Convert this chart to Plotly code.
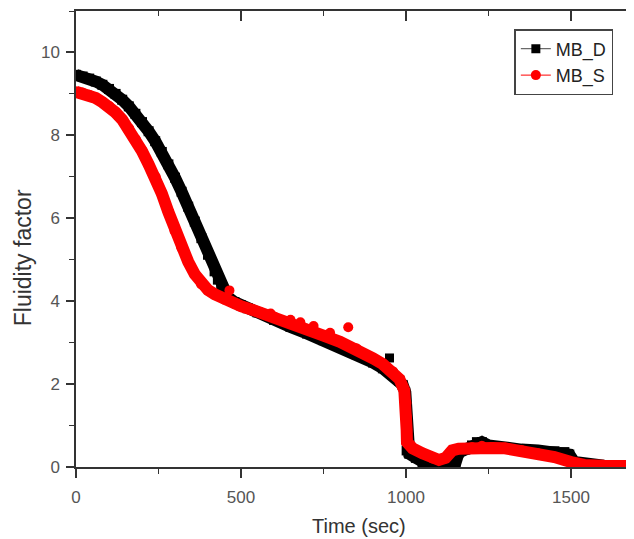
import plotly.graph_objects as go

# ---------------- data ----------------
time_d = [0, 20, 40, 60, 80, 100, 120, 140, 160, 180, 200, 220, 240, 260, 280, 300,
          320, 340, 360, 380, 400, 420, 430, 440, 450, 460, 480, 500, 520, 550, 600,
          650, 700, 750, 800, 850, 900, 930, 960, 980, 990, 998, 1002, 1010, 1030,
          1050, 1070, 1100, 1130, 1150, 1160, 1180, 1200, 1215, 1230, 1250, 1300,
          1350, 1400, 1450, 1480, 1495, 1510, 1550, 1600, 1650, 1690]
fluid_d = [9.46, 9.42, 9.37, 9.30, 9.22, 9.12, 9.00, 8.86, 8.70, 8.52, 8.32, 8.10,
           7.86, 7.60, 7.30, 6.98, 6.64, 6.28, 5.92, 5.52, 5.12, 4.72, 4.52, 4.34,
           4.20, 4.10, 3.98, 3.90, 3.83, 3.73, 3.55, 3.38, 3.22, 3.06, 2.90, 2.72,
           2.52, 2.38, 2.22, 2.08, 1.98, 1.80, 0.40, 0.32, 0.22, 0.10, 0.04, 0.03,
           0.04, 0.10, 0.35, 0.42, 0.52, 0.60, 0.60, 0.52, 0.45, 0.42, 0.40, 0.38,
           0.36, 0.30, 0.12, 0.05, 0.03, 0.02, 0.02]

time_s = [0, 20, 40, 60, 80, 100, 120, 140, 160, 180, 200, 220, 240, 260, 280, 300,
          320, 340, 360, 380, 400, 420, 450, 480, 500, 550, 600, 650, 700, 750, 800,
          850, 900, 930, 960, 980, 995, 1000, 1001, 1002, 1003, 1020, 1050, 1080,
          1100, 1120, 1140, 1160, 1200, 1230, 1260, 1300, 1350, 1400, 1450, 1500,
          1540, 1600, 1650, 1690]
fluid_s = [9.05, 9.02, 8.97, 8.90, 8.80, 8.70, 8.55, 8.38, 8.16, 7.90, 7.62, 7.30,
           7.00, 6.60, 6.15, 5.70, 5.30, 4.95, 4.65, 4.42, 4.27, 4.17, 4.05, 3.95,
           3.88, 3.75, 3.62, 3.47, 3.32, 3.17, 3.02, 2.85, 2.62, 2.48, 2.30, 2.12,
           1.85, 1.55, 1.20, 0.90, 0.60, 0.45, 0.33, 0.22, 0.17, 0.22, 0.40, 0.44,
           0.47, 0.50, 0.46, 0.45, 0.40, 0.32, 0.24, 0.12, 0.05, 0.03, 0.02, 0.02]

spike_time_d = [950]
spike_val_d = [2.63]
spike_time_s = [465, 590, 650, 680, 720, 770, 825]
spike_val_s = [4.26, 3.70, 3.55, 3.49, 3.40, 3.24, 3.37]

x_tick_vals = [0, 500, 1000, 1500]
y_tick_vals = [0, 2, 4, 6, 8, 10]
series_names = ["MB_D", "MB_S"]

X_RANGE = [0, 1691]
Y_RANGE = [0, 11]

BLACK = "#000000"
RED = "#ff0000"
AXIS = "#333333"
FONT = "Liberation Sans, Arial, sans-serif"

fig = go.Figure()

# dense data bands
fig.add_trace(go.Scatter(x=time_d, y=fluid_d, mode="lines+markers",
                         line=dict(color=BLACK, width=12),
                         marker=dict(symbol="square", size=10, color=BLACK),
                         showlegend=False, hoverinfo="skip"))
fig.add_trace(go.Scatter(x=spike_time_d, y=spike_val_d, mode="markers",
                         marker=dict(symbol="square", size=9, color=BLACK),
                         showlegend=False, hoverinfo="skip"))
fig.add_trace(go.Scatter(x=time_s, y=fluid_s, mode="lines+markers",
                         line=dict(color=RED, width=12),
                         marker=dict(symbol="circle", size=11, color=RED),
                         showlegend=False, hoverinfo="skip"))
fig.add_trace(go.Scatter(x=spike_time_s, y=spike_val_s, mode="markers",
                         marker=dict(symbol="circle", size=10, color=RED),
                         showlegend=False, hoverinfo="skip"))

# legend entries (thin line + marker, as in the reference legend)
fig.add_trace(go.Scatter(x=[None], y=[None], mode="lines+markers", name=series_names[0],
                         line=dict(color="#444444", width=1),
                         marker=dict(symbol="square", size=9, color=BLACK)))
fig.add_trace(go.Scatter(x=[None], y=[None], mode="lines+markers", name=series_names[1],
                         line=dict(color=RED, width=1),
                         marker=dict(symbol="circle", size=10, color=RED)))

# helper trace for the mirrored (top / right) axes
fig.add_trace(go.Scatter(x=[None], y=[None], xaxis="x2", yaxis="y2",
                         showlegend=False, hoverinfo="skip"))

# the page body has an 8px margin, so the figure is 8px smaller and shifted
fig.update_layout(
    width=626, height=531,
    margin=dict(l=68, r=0, t=3, b=72),
    paper_bgcolor="white", plot_bgcolor="white",
    font=dict(family=FONT, color="#444444"),
    xaxis=dict(range=X_RANGE, showgrid=False, zeroline=False,
               showline=True, linecolor=AXIS, linewidth=1.5,
               ticks="outside", ticklen=9, tickwidth=1.5, tickcolor=AXIS,
               tickvals=x_tick_vals, ticktext=[str(v) for v in x_tick_vals],
               ticklabelstandoff=5,
               tickfont=dict(size=17, color="#555555"),
               minor=dict(dtick=250, tick0=0, ticks="outside", ticklen=5,
                          tickwidth=1.2, tickcolor=AXIS)),
    yaxis=dict(range=Y_RANGE, showgrid=False, zeroline=False,
               showline=True, linecolor=AXIS, linewidth=1.5,
               ticks="outside", ticklen=8, tickwidth=1.5, tickcolor=AXIS,
               tickvals=y_tick_vals, ticktext=[str(v) for v in y_tick_vals],
               ticklabelstandoff=3,
               tickfont=dict(size=17, color="#555555"),
               minor=dict(dtick=1, tick0=0, ticks="outside", ticklen=5,
                          tickwidth=1.2, tickcolor=AXIS)),
    xaxis2=dict(range=X_RANGE, overlaying="x", side="top", anchor="y2",
                showgrid=False, zeroline=False, showline=True,
                linecolor=AXIS, linewidth=1.5, showticklabels=False,
                ticks="inside", ticklen=10, tickwidth=1.5, tickcolor=AXIS,
                tickvals=x_tick_vals,
                minor=dict(dtick=250, tick0=0, ticks="inside", ticklen=5,
                           tickwidth=1.2, tickcolor=AXIS)),
    yaxis2=dict(range=Y_RANGE, overlaying="y", side="right", anchor="x2",
                showgrid=False, zeroline=False, showline=False,
                showticklabels=False,
                ticks="inside", ticklen=6, tickwidth=1.5, tickcolor=AXIS,
                tickvals=y_tick_vals,
                minor=dict(dtick=1, tick0=0, ticks="inside", ticklen=3,
                           tickwidth=1, tickcolor="#888888")),
    legend=dict(x=0.963, y=0.9605, xanchor="right", yanchor="top",
                bgcolor="white", bordercolor="#444444", borderwidth=1.5,
                font=dict(size=18, color="#222222", family=FONT),
                tracegroupgap=0),
    annotations=[
        dict(text="Time (sec)", xref="paper", yref="paper", x=0.507, y=-0.129,
             xanchor="center", yanchor="middle", showarrow=False,
             font=dict(size=20, color="#333333", family=FONT)),
        dict(text="Fluidity factor", xref="paper", yref="paper", x=-0.095, y=0.46,
             xanchor="center", yanchor="middle", textangle=-90, showarrow=False,
             font=dict(size=23, color="#333333", family=FONT)),
    ],
)

fig.write_html("out.html")
